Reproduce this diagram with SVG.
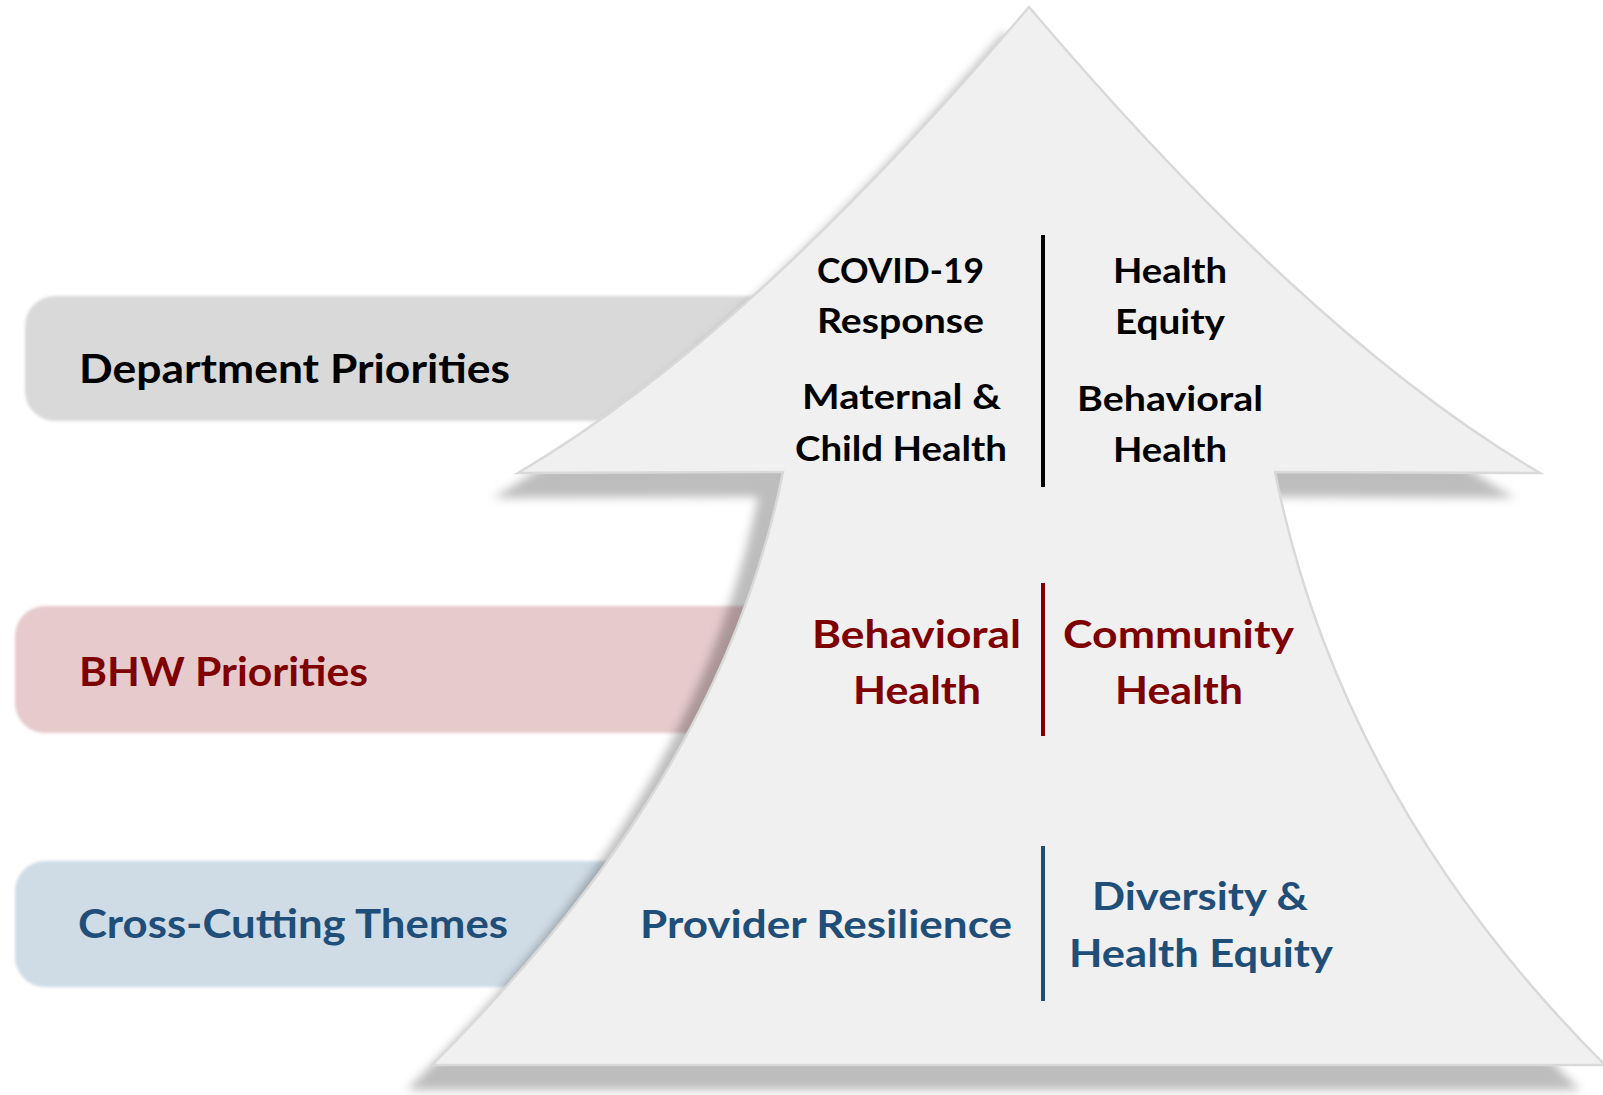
<svg xmlns="http://www.w3.org/2000/svg" width="1603" height="1095" viewBox="0 0 1603 1095">
  <defs>
    <style>
      text { font-family: Lato, "Open Sans", "Liberation Sans", sans-serif; font-weight: bold; }
      .lbl { font-size: 40px; }
      .top { font-size: 35px; fill: #000000; }
      .mid { font-size: 39px; fill: #7f0000; }
      .bot { font-size: 39px; fill: #1f4e79; }
      .blk { fill: #000000; }
      .red { fill: #7f0000; }
      .blu { fill: #1f4e79; }
    </style>
    <filter id="soft" x="-5%" y="-20%" width="110%" height="140%">
      <feGaussianBlur stdDeviation="1.5"/>
    </filter>
    <filter id="shadow" x="-10%" y="-10%" width="120%" height="120%">
      <feGaussianBlur stdDeviation="5"/>
    </filter>
    <path id="arrowShape" d="M1029,7 C859,207 688,373 518,473 L783,472 C733,722 582,915 432,1065 L1605,1065 C1455,915 1325,722 1275,472 L1540,473 C1370,373 1199,207 1029,7 Z"/>
  </defs>

  <rect x="0" y="0" width="1603" height="1095" fill="#ffffff"/>

  <g id="band-department">
    <rect x="25" y="296" width="900" height="125" rx="30" ry="30" fill="#d9d9d9" filter="url(#soft)"/>
  </g>
  <g id="band-bhw">
    <rect x="15" y="606" width="900" height="127" rx="30" ry="30" fill="#e6cacc" filter="url(#soft)"/>
  </g>
  <g id="band-crosscutting">
    <rect x="15" y="861" width="800" height="126" rx="30" ry="30" fill="#cfdbe5" filter="url(#soft)"/>
  </g>

  <g id="arrow">
    <use href="#arrowShape" transform="translate(-25,25)" fill="#000000" fill-opacity="0.26" filter="url(#shadow)"/>
    <use href="#arrowShape" fill="#f0f0f0" stroke="#d9d9d9" stroke-width="2.5" stroke-linejoin="miter"/>
  </g>

  <g id="labels">
    <text class="lbl blk" x="79" y="383" textLength="431" lengthAdjust="spacingAndGlyphs">Department Priorities</text>
    <text class="lbl red" x="79" y="686" textLength="289" lengthAdjust="spacingAndGlyphs">BHW Priorities</text>
    <text class="lbl blu" x="78" y="938" textLength="430" lengthAdjust="spacingAndGlyphs">Cross-Cutting Themes</text>
  </g>

  <g id="connectors">
    <line x1="1043" y1="235" x2="1043" y2="487" stroke="#000000" stroke-width="4"/>
    <line x1="1043" y1="583" x2="1043" y2="736" stroke="#7f0000" stroke-width="4"/>
    <line x1="1043" y1="846" x2="1043" y2="1001" stroke="#1f4e79" stroke-width="4"/>
  </g>

  <g id="dept-covid">
    <text class="top" x="817" y="283" textLength="167" lengthAdjust="spacingAndGlyphs">COVID-19</text>
    <text class="top" x="817" y="333" textLength="167" lengthAdjust="spacingAndGlyphs">Response</text>
  </g>
  <g id="dept-maternal">
    <text class="top" x="802" y="409" textLength="199" lengthAdjust="spacingAndGlyphs">Maternal &amp;</text>
    <text class="top" x="795" y="461" textLength="212" lengthAdjust="spacingAndGlyphs">Child Health</text>
  </g>
  <g id="dept-equity">
    <text class="top" x="1113" y="283" textLength="114" lengthAdjust="spacingAndGlyphs">Health</text>
    <text class="top" x="1115" y="334" textLength="110" lengthAdjust="spacingAndGlyphs">Equity</text>
  </g>
  <g id="dept-behavioral">
    <text class="top" x="1077" y="411" textLength="186" lengthAdjust="spacingAndGlyphs">Behavioral</text>
    <text class="top" x="1113" y="462" textLength="114" lengthAdjust="spacingAndGlyphs">Health</text>
  </g>

  <g id="bhw-behavioral">
    <text class="mid" x="812" y="648" textLength="209" lengthAdjust="spacingAndGlyphs">Behavioral</text>
    <text class="mid" x="853" y="704" textLength="128" lengthAdjust="spacingAndGlyphs">Health</text>
  </g>
  <g id="bhw-community">
    <text class="mid" x="1063" y="648" textLength="231" lengthAdjust="spacingAndGlyphs">Community</text>
    <text class="mid" x="1115" y="704" textLength="128" lengthAdjust="spacingAndGlyphs">Health</text>
  </g>

  <g id="cc-resilience">
    <text class="bot" x="640" y="938" textLength="372" lengthAdjust="spacingAndGlyphs">Provider Resilience</text>
  </g>
  <g id="cc-diversity">
    <text class="bot" x="1092" y="910" textLength="216" lengthAdjust="spacingAndGlyphs">Diversity &amp;</text>
    <text class="bot" x="1069" y="967" textLength="264" lengthAdjust="spacingAndGlyphs">Health Equity</text>
  </g>
</svg>
